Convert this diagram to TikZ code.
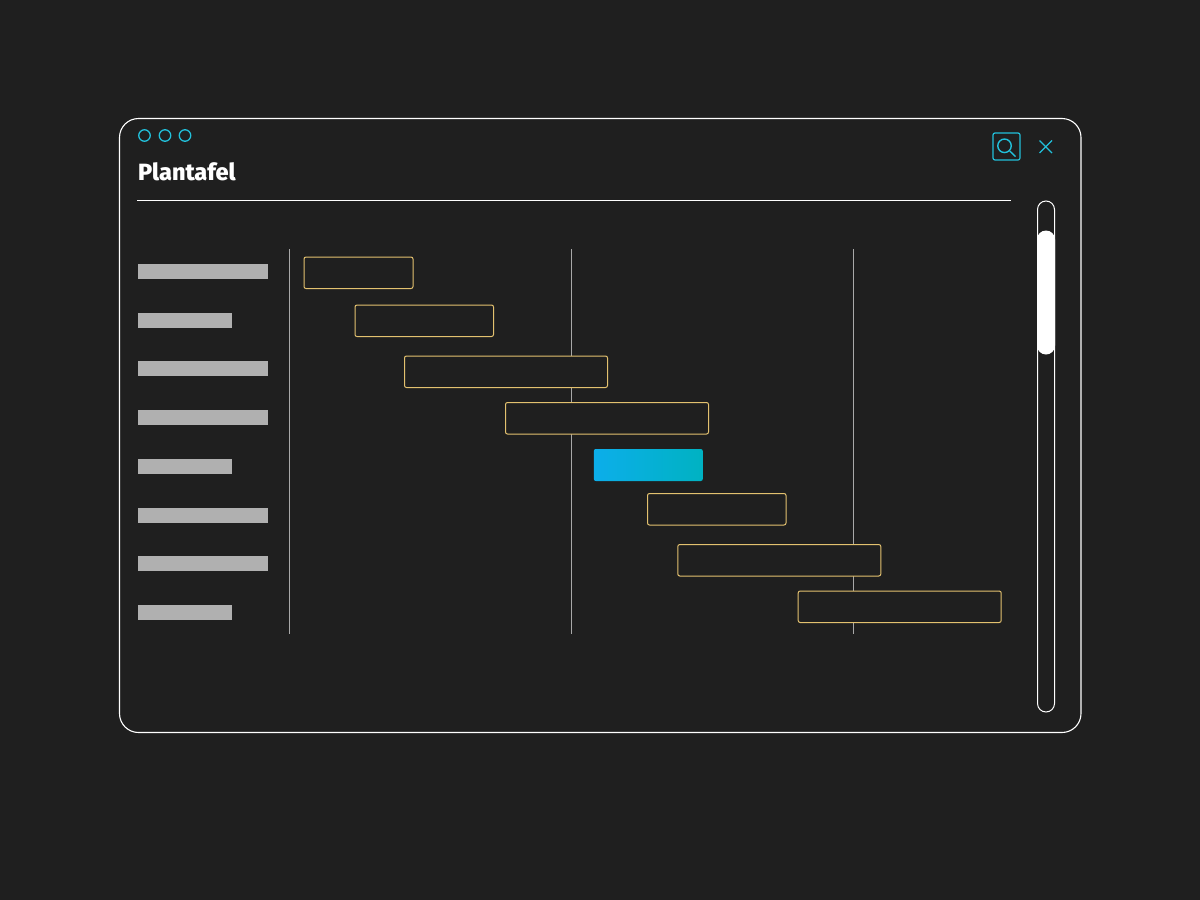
\documentclass[tikz,border=0pt]{standalone}
\usepackage{fontspec}
\setmainfont{Fira Sans}
\newfontfamily\titlefont{Fira Sans ExtraBold}
\definecolor{bgc}{HTML}{1F1F1F}
\definecolor{cyanc}{HTML}{22C0DA}
\definecolor{goldc}{HTML}{E3C16F}
\definecolor{barc}{HTML}{B0B0B0}
\definecolor{gridc}{HTML}{A8A8A8}
\definecolor{gradl}{HTML}{0CAEEA}
\definecolor{gradr}{HTML}{00B2C2}
\tikzset{
  box/.style={anchor=north west,inner sep=0pt,outer sep=0pt,minimum width=#1},
  task/.style={box=#1,draw=goldc,line width=1pt,fill=bgc,rounded corners=2pt,minimum height=31.5pt},
  label bar/.style={box=#1,fill=barc,minimum height=15pt},
  grid line/.style={draw=gridc,line width=1pt},
  dot/.style={circle,draw=cyanc,line width=1.3pt,minimum size=11.5pt,inner sep=0pt},
  icon/.style={draw=cyanc,line width=1.2pt},
}
\begin{document}
\begin{tikzpicture}[x=1pt,y=-1pt]
\useasboundingbox[fill=bgc] (0,0) rectangle (1200,900);
\node[box=961.5pt,minimum height=614pt,draw=white,line width=1.1pt,rounded corners=19pt] (window) at (119.5,118.5) {};
\node[dot] (dotA) at (144.5,135.5) {};
\node[dot] (dotB) at (165,135.5) {};
\node[dot] (dotC) at (185,135.5) {};
\node[anchor=base west,inner sep=0pt,text=white,font=\fontsize{23.5}{25}\selectfont\titlefont] (title) at (138,180) {Plantafel};
\coordinate (ruleL) at (137,200.8);
\coordinate (ruleR) at (1011,200.8);
\draw[white,line width=1pt] (ruleL) -- (ruleR);
% search icon
\node[box=27pt,minimum height=27pt,icon,rounded corners=2pt] (searchbox) at (993,133) {};
\node[circle,icon,line width=1.4pt,minimum size=13.5pt,inner sep=0pt] (lens) at (1004.5,145.8) {};
\coordinate (handle) at (1015.5,156.5);
\draw[icon,line width=1.4pt] (lens.south east) -- (handle);
% close icon
\coordinate (xa) at (1039.5,140.5);
\coordinate (xb) at (1052,153);
\coordinate (xc) at (1052,140.5);
\coordinate (xd) at (1039.5,153);
\draw[icon] (xa) -- (xb);
\draw[icon] (xc) -- (xd);
% scrollbar
\node[box=17pt,minimum height=511pt,draw=white,line width=1pt,rounded corners=8.5pt] (track) at (1037.5,201) {};
\node[box=18pt,minimum height=124pt,fill=white,rounded corners=9pt] (thumb) at (1037,230.5) {};
% grid lines
\foreach \n/\x in {gA/289.5,gB/571.5,gC/853.5}{
  \coordinate (\n t) at (\x,249);
  \coordinate (\n b) at (\x,634);
  \draw[grid line] (\n t) -- (\n b);
}
% row labels
\foreach \n/\y/\w in {lA/264/130pt,lB/312.5/94pt,lC/361/130pt,lD/410/130pt,lE/458.5/94pt,lF/507.5/130pt,lG/556/130pt,lH/604.5/94pt}{
  \node[label bar=\w] (\n) at (138,\y) {};
}
% tasks
\node[task=109pt] (tA) at (304,257) {};
\node[task=138.5pt] (tB) at (355,305) {};
\node[task=203pt] (tC) at (404.5,356) {};
\node[task=203pt] (tD) at (505.5,402.5) {};
\node[box=109pt,minimum height=32pt,rounded corners=2pt,left color=gradl,right color=gradr] (tE) at (593.8,449) {};
\node[task=138.5pt] (tF) at (647.5,493.5) {};
\node[task=203pt] (tG) at (677.8,544.5) {};
\node[task=203pt] (tH) at (798.2,591) {};
\end{tikzpicture}
\end{document}
